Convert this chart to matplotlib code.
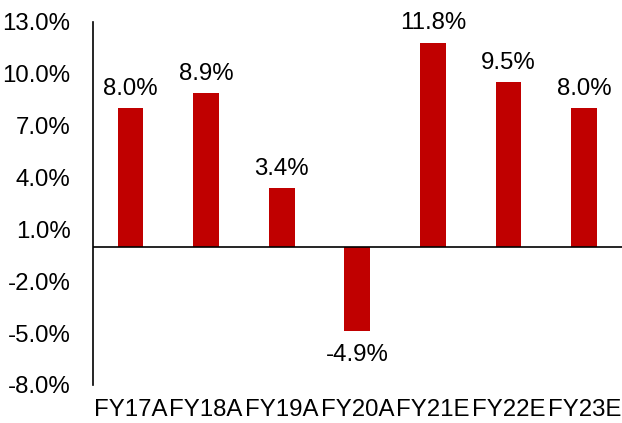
import numpy as np
import matplotlib.pyplot as plt

plt.rcParams['font.family'] = ['Liberation Sans', 'DejaVu Sans']

years = ['FY17A', 'FY18A', 'FY19A', 'FY20A', 'FY21E', 'FY22E', 'FY23E']
growth = [8.0, 8.9, 3.4, -4.9, 11.8, 9.5, 8.0]
yticks = [-8, -5, -2, 1, 4, 7, 10, 13]

fs = 17.3

fig = plt.figure(figsize=(6.22, 4.23), dpi=100)
ax = fig.add_axes([0.149, 0.09, 0.851, 0.858])

x = np.arange(len(years))
bars = ax.bar(x, growth, width=0.34, color='#C00000', zorder=2)

for xi, v in zip(x, growth):
    off = 6 if v >= 0 else -9
    ax.annotate(f'{v:.1f}%', (xi, v), xytext=(0, off), textcoords='offset points',
                ha='center', va='bottom' if v >= 0 else 'top', fontsize=fs)

ax.axhline(0, color='black', lw=1.2, zorder=3)
ax.set_xlim(-0.5, len(years) - 0.5)
ax.set_ylim(-8, 13)
ax.set_yticks(yticks)
ax.set_yticklabels([f'{t:.1f}%' for t in yticks])
ax.set_xticks(x)
ax.set_xticklabels(years)
ax.tick_params(axis='both', length=0, labelsize=fs)
ax.tick_params(axis='y', pad=16)
ax.tick_params(axis='x', pad=10)

for s in ['top', 'right', 'bottom']:
    ax.spines[s].set_visible(False)
ax.spines['left'].set_linewidth(1.2)

fig.savefig('out.png', dpi=100)
